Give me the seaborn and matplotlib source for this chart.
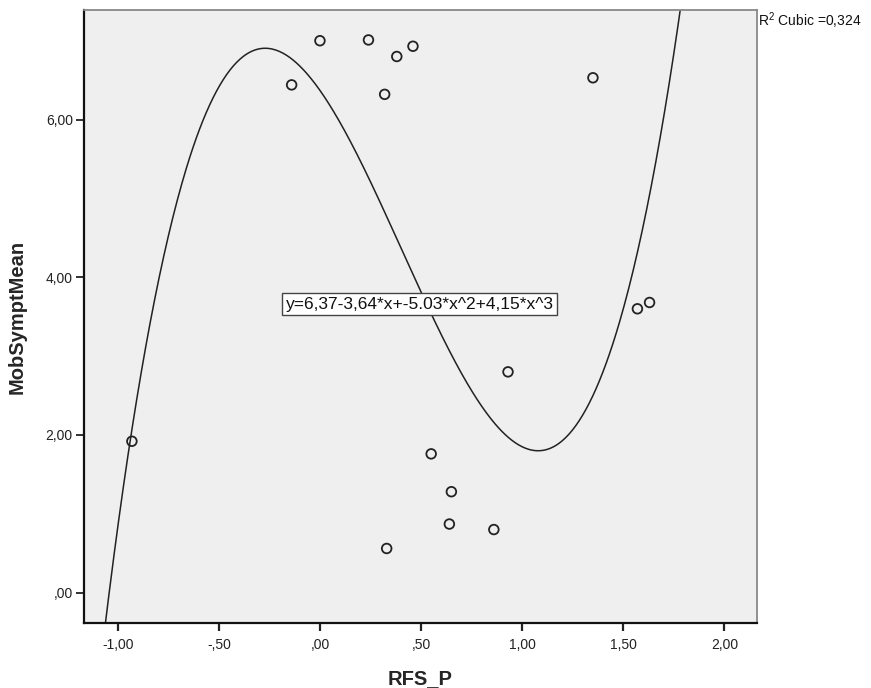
import numpy as np
import pandas as pd
import matplotlib
matplotlib.use("Agg")
import matplotlib.pyplot as plt
from matplotlib.ticker import FuncFormatter
import seaborn as sns

# ---- data ----
rfs_p = [-0.93, -0.14, 0.00, 0.24, 0.38, 0.46, 0.32, 1.35, 0.93, 0.55,
         0.65, 0.64, 0.86, 0.33, 1.57, 1.63]
mob_sympt_mean = [1.92, 6.44, 7.00, 7.01, 6.80, 6.93, 6.32, 6.53, 2.80, 1.76,
                  1.28, 0.87, 0.80, 0.56, 3.60, 3.68]
cubic_coefs = [4.15, -5.03, -3.64, 6.37]   # x^3, x^2, x, const (from equation label)
x_ticks = [-1.0, -0.5, 0.0, 0.5, 1.0, 1.5, 2.0]
y_ticks = [0.0, 2.0, 4.0, 6.0]
equation_label = "y=6,37-3,64*x+-5.03*x^2+4,15*x^3"
r2_label = "R$^{2}$ Cubic =0,324"
x_label = "RFS_P"
y_label = "MobSymptMean"

sns.set_style("white")
plt.rcParams["font.family"] = ["Liberation Sans", "DejaVu Sans"]
plt.rcParams["mathtext.fontset"] = "custom"
plt.rcParams["mathtext.rm"] = "Liberation Sans"

fig = plt.figure(figsize=(8.71, 6.88), dpi=100)
ax = fig.add_axes([0.0964, 0.0945, 0.7724, 0.891])
ax.set_facecolor("#efefef")

xlim = (-1.167, 2.16)
ylim = (-0.385, 7.39)

df = pd.DataFrame({"RFS_P": rfs_p, "MobSymptMean": mob_sympt_mean})
sns.scatterplot(data=df, x="RFS_P", y="MobSymptMean", ax=ax, marker="o", s=48,
                facecolors="none", edgecolor="#222222", linewidth=1.3, zorder=3)

xg = np.linspace(xlim[0], xlim[1], 600)
yg = np.polyval(cubic_coefs, xg)
sns.lineplot(x=xg, y=yg, ax=ax, color="#222222", linewidth=1.1, zorder=2)

ax.set_xlim(*xlim)
ax.set_ylim(*ylim)
ax.set_xticks(x_ticks)
ax.set_yticks(y_ticks)

def spss_fmt(v, pos=None):
    s = f"{abs(v):.2f}"
    if s.startswith("0"):
        s = s[1:]
    s = s.replace(".", ",")
    return ("-" if v < -1e-9 else "") + s

ax.xaxis.set_major_formatter(FuncFormatter(spss_fmt))
ax.yaxis.set_major_formatter(FuncFormatter(spss_fmt))
ax.tick_params(axis="x", direction="out", length=6, width=1.6, color="#222222",
               labelsize=10, labelcolor="#222222", pad=5, bottom=True)
ax.tick_params(axis="y", direction="out", length=6, width=1.3, color="#222222",
               labelsize=10, labelcolor="#222222", pad=2, left=True)

for side in ["left", "bottom"]:
    ax.spines[side].set_color("#111111")
    ax.spines[side].set_linewidth(1.6)
for side in ["top", "right"]:
    ax.spines[side].set_color("#888888")
    ax.spines[side].set_linewidth(1.3)

ax.set_xlabel(x_label, fontsize=14.5, fontweight="bold", labelpad=12)
ax.set_ylabel(y_label, fontsize=14.5, fontweight="bold", labelpad=14)

ax.text(0.4987, 0.52, equation_label, transform=ax.transAxes, ha="center", va="center",
        fontsize=12.5, color="#111111",
        bbox=dict(boxstyle="square,pad=0.2", facecolor="white", edgecolor="#444444", linewidth=1.0),
        zorder=4)

fig.text(0.870, 0.985, r2_label, ha="left", va="top", fontsize=10, color="#111111")

fig.savefig("out.png", dpi=100)
